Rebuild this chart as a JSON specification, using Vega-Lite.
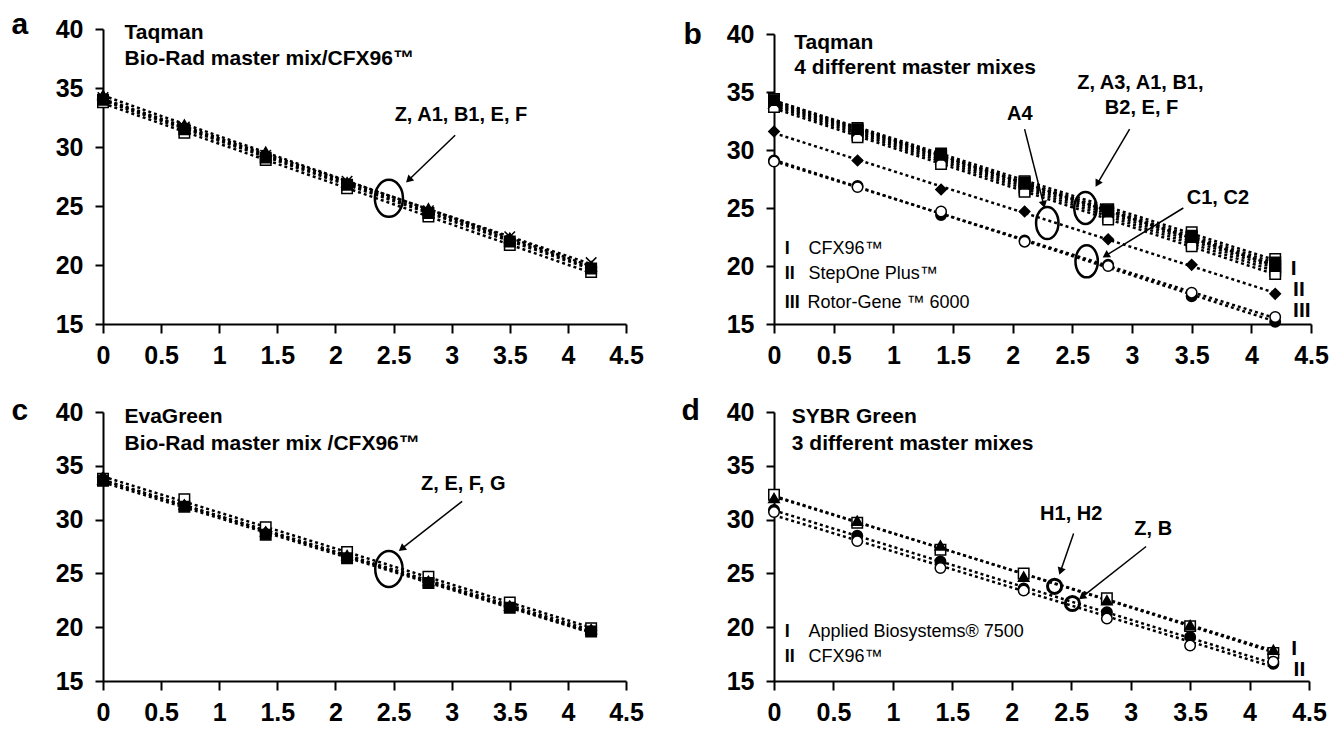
{
"$schema": "https://vega.github.io/schema/vega-lite/v6.json",
"padding": {"left": 11, "top": 9, "right": 5, "bottom": 5},
"columns": 2,
"bounds": "flush",
"spacing": {"row": 88, "column": 148},
"resolve": {"scale": {"shape": "independent", "fill": "independent"}},
"config": {
  "view": {"stroke": null},
  "font": "Liberation Sans, Arial, sans-serif",
  "axis": {"grid": false, "domainColor": "black", "domainWidth": 2, "tickColor": "black", "tickWidth": 2, "labelColor": "black", "labelFontSize": 25, "labelFontWeight": "bold", "titleColor": "black", "labelFlush": false, "labelOverlap": false},
  "text": {"color": "black"}
},
"datasets": {
  "a": [
    {"s":"Z","x":0,"y":33.8},{"s":"Z","x":0.7,"y":31.2},{"s":"Z","x":1.4,"y":28.9},{"s":"Z","x":2.1,"y":26.5},{"s":"Z","x":2.8,"y":24.1},{"s":"Z","x":3.5,"y":21.7},{"s":"Z","x":4.2,"y":19.4},
    {"s":"A1","x":0,"y":34.0},{"s":"A1","x":0.7,"y":31.5},{"s":"A1","x":1.4,"y":29.1},{"s":"A1","x":2.1,"y":26.8},{"s":"A1","x":2.8,"y":24.4},{"s":"A1","x":3.5,"y":22.0},{"s":"A1","x":4.2,"y":19.7},
    {"s":"B1","x":0,"y":34.4},{"s":"B1","x":0.7,"y":31.9},{"s":"B1","x":1.4,"y":29.6},{"s":"B1","x":2.1,"y":27.0},{"s":"B1","x":2.8,"y":24.8},{"s":"B1","x":3.5,"y":22.3},{"s":"B1","x":4.2,"y":19.9},
    {"s":"E","x":0,"y":34.2},{"s":"E","x":0.7,"y":31.7},{"s":"E","x":1.4,"y":29.3},{"s":"E","x":2.1,"y":27.1},{"s":"E","x":2.8,"y":24.6},{"s":"E","x":3.5,"y":22.4},{"s":"E","x":4.2,"y":20.2},
    {"s":"F","x":0,"y":34.1},{"s":"F","x":0.7,"y":31.6},{"s":"F","x":1.4,"y":29.2},{"s":"F","x":2.1,"y":26.9},{"s":"F","x":2.8,"y":24.5},{"s":"F","x":3.5,"y":22.2},{"s":"F","x":4.2,"y":19.8}
  ],
  "aText": [
    {"r":"title","x":0.185,"y":39.66,"t":"Taqman"},
    {"r":"title","x":0.185,"y":37.5,"t":"Bio-Rad master mix/CFX96™"},
    {"r":"note","x":3.08,"y":32.7,"t":"Z, A1, B1, E, F"}
  ],
  "aArrow": [{"id":"1","x":2.63,"y":27.2,"x2":3.03,"y2":31.0}],
  "aRing": [{"x":2.46,"y":25.65}],
  "b": [
    {"s":"Z","x":0,"y":34.4},{"s":"Z","x":0.7,"y":31.9},{"s":"Z","x":1.4,"y":29.7},{"s":"Z","x":2.1,"y":27.3},{"s":"Z","x":2.8,"y":24.9},{"s":"Z","x":3.5,"y":22.9},{"s":"Z","x":4.2,"y":20.6},
    {"s":"A3","x":0,"y":34.2},{"s":"A3","x":0.7,"y":31.7},{"s":"A3","x":1.4,"y":29.5},{"s":"A3","x":2.1,"y":27.2},{"s":"A3","x":2.8,"y":24.8},{"s":"A3","x":3.5,"y":22.6},{"s":"A3","x":4.2,"y":20.3},
    {"s":"A1","x":0,"y":34.0},{"s":"A1","x":0.7,"y":31.5},{"s":"A1","x":1.4,"y":29.2},{"s":"A1","x":2.1,"y":26.8},{"s":"A1","x":2.8,"y":24.4},{"s":"A1","x":3.5,"y":22.2},{"s":"A1","x":4.2,"y":19.9},
    {"s":"B1","x":0,"y":33.9},{"s":"B1","x":0.7,"y":31.3},{"s":"B1","x":1.4,"y":29.0},{"s":"B1","x":2.1,"y":26.6},{"s":"B1","x":2.8,"y":24.2},{"s":"B1","x":3.5,"y":22.0},{"s":"B1","x":4.2,"y":19.6},
    {"s":"B2","x":0,"y":33.7},{"s":"B2","x":0.7,"y":31.1},{"s":"B2","x":1.4,"y":28.8},{"s":"B2","x":2.1,"y":26.4},{"s":"B2","x":2.8,"y":24.0},{"s":"B2","x":3.5,"y":21.7},{"s":"B2","x":4.2,"y":19.3},
    {"s":"E","x":0,"y":34.1},{"s":"E","x":0.7,"y":31.6},{"s":"E","x":1.4,"y":29.4},{"s":"E","x":2.1,"y":27.0},{"s":"E","x":2.8,"y":24.6},{"s":"E","x":3.5,"y":22.4},{"s":"E","x":4.2,"y":20.1},
    {"s":"F","x":0,"y":34.3},{"s":"F","x":0.7,"y":31.8},{"s":"F","x":1.4,"y":29.6},{"s":"F","x":2.1,"y":27.1},{"s":"F","x":2.8,"y":24.7},{"s":"F","x":3.5,"y":22.5},{"s":"F","x":4.2,"y":20.0},
    {"s":"A4","x":0,"y":31.6},{"s":"A4","x":0.7,"y":29.1},{"s":"A4","x":1.4,"y":26.6},{"s":"A4","x":2.1,"y":24.7},{"s":"A4","x":2.8,"y":22.3},{"s":"A4","x":3.5,"y":20.1},{"s":"A4","x":4.2,"y":17.6},
    {"s":"C1","x":0,"y":29.1},{"s":"C1","x":0.7,"y":26.9},{"s":"C1","x":1.4,"y":24.4},{"s":"C1","x":2.1,"y":22.2},{"s":"C1","x":2.8,"y":20.1},{"s":"C1","x":3.5,"y":17.4},{"s":"C1","x":4.2,"y":15.2},
    {"s":"C2","x":0,"y":29.0},{"s":"C2","x":0.7,"y":26.8},{"s":"C2","x":1.4,"y":24.7},{"s":"C2","x":2.1,"y":22.1},{"s":"C2","x":2.8,"y":20.0},{"s":"C2","x":3.5,"y":17.7},{"s":"C2","x":4.2,"y":15.6}
  ],
  "bText": [
    {"r":"title","x":0.17,"y":39.2,"t":"Taqman"},
    {"r":"title","x":0.17,"y":37.1,"t":"4 different master mixes"},
    {"r":"note","x":2.06,"y":33.1,"t":"A4"},
    {"r":"note","x":3.07,"y":35.8,"t":"Z, A3, A1, B1,"},
    {"r":"note","x":3.08,"y":33.6,"t":"B2, E, F"},
    {"r":"note","x":3.72,"y":25.9,"t":"C1, C2"},
    {"r":"legnum","x":0.09,"y":21.5,"t":"I"},
    {"r":"legnum","x":0.09,"y":19.3,"t":"II"},
    {"r":"legnum","x":0.09,"y":16.8,"t":"III"},
    {"r":"leg","x":0.29,"y":21.5,"t":"CFX96™"},
    {"r":"leg","x":0.29,"y":19.3,"t":"StepOne Plus™"},
    {"r":"leg","x":0.28,"y":16.8,"t":"Rotor-Gene ™ 6000"},
    {"r":"side","x":4.33,"y":19.7,"t":"I"},
    {"r":"side","x":4.35,"y":17.9,"t":"II"},
    {"r":"side","x":4.35,"y":16.1,"t":"III"}
  ],
  "bArrow": [
    {"id":"A4","x":2.26,"y":25.3,"x2":2.10,"y2":31.8},
    {"id":"Z","x":2.71,"y":27.1,"x2":2.98,"y2":31.8},
    {"id":"C","x":2.78,"y":20.9,"x2":3.43,"y2":25.0}
  ],
  "bRing": [{"x":2.29,"y":23.7},{"x":2.61,"y":25.0},{"x":2.62,"y":20.4}],
  "c": [
    {"s":"Z","x":0,"y":33.8},{"s":"Z","x":0.7,"y":31.9},{"s":"Z","x":1.4,"y":29.3},{"s":"Z","x":2.1,"y":27.0},{"s":"Z","x":2.8,"y":24.7},{"s":"Z","x":3.5,"y":22.3},{"s":"Z","x":4.2,"y":19.9},
    {"s":"E","x":0,"y":33.6},{"s":"E","x":0.7,"y":31.2},{"s":"E","x":1.4,"y":28.6},{"s":"E","x":2.1,"y":26.4},{"s":"E","x":2.8,"y":24.1},{"s":"E","x":3.5,"y":21.8},{"s":"E","x":4.2,"y":19.6},
    {"s":"F","x":0,"y":33.7},{"s":"F","x":0.7,"y":31.4},{"s":"F","x":1.4,"y":28.9},{"s":"F","x":2.1,"y":26.7},{"s":"F","x":2.8,"y":24.3},{"s":"F","x":3.5,"y":22.0},{"s":"F","x":4.2,"y":19.8},
    {"s":"G","x":0,"y":33.9},{"s":"G","x":0.7,"y":31.3},{"s":"G","x":1.4,"y":28.8},{"s":"G","x":2.1,"y":26.5},{"s":"G","x":2.8,"y":24.2},{"s":"G","x":3.5,"y":21.9},{"s":"G","x":4.2,"y":19.7}
  ],
  "cText": [
    {"r":"title","x":0.185,"y":39.5,"t":"EvaGreen"},
    {"r":"title","x":0.185,"y":37.0,"t":"Bio-Rad master mix /CFX96™"},
    {"r":"note","x":3.10,"y":33.3,"t":"Z, E, F, G"}
  ],
  "cArrow": [{"id":"1","x":2.57,"y":27.3,"x2":3.09,"y2":31.7}],
  "cRing": [{"x":2.46,"y":25.4}],
  "d": [
    {"s":"H1","x":0,"y":32.3},{"s":"H1","x":0.7,"y":29.7},{"s":"H1","x":1.4,"y":27.2},{"s":"H1","x":2.1,"y":25.0},{"s":"H1","x":2.8,"y":22.7},{"s":"H1","x":3.5,"y":20.1},{"s":"H1","x":4.2,"y":17.6},
    {"s":"H2","x":0,"y":32.0},{"s":"H2","x":0.7,"y":29.9},{"s":"H2","x":1.4,"y":27.6},{"s":"H2","x":2.1,"y":24.7},{"s":"H2","x":2.8,"y":22.5},{"s":"H2","x":3.5,"y":20.2},{"s":"H2","x":4.2,"y":17.9},
    {"s":"Z","x":0,"y":30.9},{"s":"Z","x":0.7,"y":28.5},{"s":"Z","x":1.4,"y":26.1},{"s":"Z","x":2.1,"y":23.6},{"s":"Z","x":2.8,"y":21.4},{"s":"Z","x":3.5,"y":19.1},{"s":"Z","x":4.2,"y":16.6},
    {"s":"B","x":0,"y":30.7},{"s":"B","x":0.7,"y":28.0},{"s":"B","x":1.4,"y":25.5},{"s":"B","x":2.1,"y":23.4},{"s":"B","x":2.8,"y":20.8},{"s":"B","x":3.5,"y":18.3},{"s":"B","x":4.2,"y":16.8}
  ],
  "dText": [
    {"r":"title","x":0.15,"y":39.5,"t":"SYBR Green"},
    {"r":"title","x":0.15,"y":37.0,"t":"3 different master mixes"},
    {"r":"note","x":2.50,"y":30.5,"t":"H1, H2"},
    {"r":"note","x":3.19,"y":29.1,"t":"Z, B"},
    {"r":"legnum","x":0.09,"y":19.6,"t":"I"},
    {"r":"legnum","x":0.09,"y":17.2,"t":"II"},
    {"r":"leg","x":0.29,"y":19.6,"t":"Applied Biosystems® 7500"},
    {"r":"leg","x":0.29,"y":17.2,"t":"CFX96™"},
    {"r":"side","x":4.35,"y":18.0,"t":"I"},
    {"r":"side","x":4.37,"y":16.0,"t":"II"}
  ],
  "dArrow": [
    {"id":"H","x":2.41,"y":25.2,"x2":2.52,"y2":28.7},
    {"id":"Z","x":2.59,"y":22.8,"x2":3.13,"y2":27.5}
  ],
  "dRing": [{"x":2.36,"y":23.8},{"x":2.51,"y":22.2}]
},
"concat": [
  {
    "width": 523, "height": 295,
    "encoding": {
      "x": {"field":"x","type":"quantitative","scale":{"domain":[0,4.5],"nice":false,"zero":false},"axis":{"values":[0,0.5,1,1.5,2,2.5,3,3.5,4,4.5],"format":"~g","title":null,"tickSize":9,"labelPadding":10}},
      "y": {"field":"y","type":"quantitative","scale":{"domain":[15,40],"nice":false,"zero":false},"axis":{"values":[15,20,25,30,35,40],"format":"~g","title":"a","titleAngle":0,"titleX":-92,"titleY":4,"titleAlign":"left","titleBaseline":"alphabetic","titleFontSize":30,"titleFontWeight":"bold","tickSize":8,"labelPadding":12}}
    },
    "layer": [
      {"data":{"name":"a"},"transform":[{"regression":"y","on":"x","groupby":["s"],"extent":[0,4.2]}],"mark":{"type":"line","color":"black","strokeWidth":2.5,"strokeDash":[3,3]},"encoding":{"detail":{"field":"s","type":"nominal"}}},
      {"data":{"name":"a"},"mark":{"type":"point","filled":true,"stroke":"black","strokeWidth":1.5,"size":110,"opacity":1},"encoding":{
        "shape":{"field":"s","type":"nominal","scale":{"domain":["Z","A1","B1","E","F"],"range":["square","square","triangle-up","M-1,-1L1,1M-1,1L1,-1","diamond"]},"legend":null},
        "fill":{"field":"s","type":"nominal","scale":{"domain":["Z","A1","B1","E","F"],"range":["white","black","black","black","black"]},"legend":null}}},
      {"data":{"name":"aRing"},"mark":{"type":"point","shape":"M0,-1A0.76,1 0 1,1 0,1A0.76,1 0 1,1 0,-1Z","size":1369,"filled":false,"color":"black","strokeWidth":2.5,"opacity":1}},
      {"data":{"name":"aArrow"},"mark":{"type":"rule","color":"black","strokeWidth":1.5},"encoding":{"x2":{"field":"x2"},"y2":{"field":"y2"}}},
      {"data":{"name":"aArrow"},"mark":{"type":"point","shape":"triangle-up","angle":226,"size":70,"filled":true,"color":"black","opacity":1}},
      {"data":{"name":"aText"},"transform":[{"filter":"datum.r == 'title'"}],"mark":{"type":"text","align":"left","baseline":"middle","fontSize":21,"fontWeight":"bold"},"encoding":{"text":{"field":"t","type":"nominal"}}},
      {"data":{"name":"aText"},"transform":[{"filter":"datum.r == 'note'"}],"mark":{"type":"text","align":"center","baseline":"middle","fontSize":20,"fontWeight":"bold"},"encoding":{"text":{"field":"t","type":"nominal"}}}
    ]
  },
  {
    "width": 537, "height": 295,
    "encoding": {
      "x": {"field":"x","type":"quantitative","scale":{"domain":[0,4.5],"nice":false,"zero":false},"axis":{"values":[0,0.5,1,1.5,2,2.5,3,3.5,4,4.5],"format":"~g","title":null,"tickSize":9,"labelPadding":10}},
      "y": {"field":"y","type":"quantitative","scale":{"domain":[15,40],"nice":false,"zero":false,"range":[295,5]},"axis":{"values":[15,20,25,30,35,40],"format":"~g","title":"b","titleAngle":0,"titleX":-91,"titleY":14,"titleAlign":"left","titleBaseline":"alphabetic","titleFontSize":30,"titleFontWeight":"bold","tickSize":8,"labelPadding":12}}
    },
    "layer": [
      {"data":{"name":"b"},"transform":[{"regression":"y","on":"x","groupby":["s"],"extent":[0,4.2]}],"mark":{"type":"line","color":"black","strokeWidth":2.5,"strokeDash":[3,3]},"encoding":{"detail":{"field":"s","type":"nominal"}}},
      {"data":{"name":"b"},"mark":{"type":"point","filled":true,"stroke":"black","strokeWidth":1.5,"size":110,"opacity":1},"encoding":{
        "shape":{"field":"s","type":"nominal","scale":{"domain":["Z","A3","A1","B1","B2","E","F","A4","C1","C2"],"range":["square","square","triangle-up","square","square","M-1,-1L1,1M-1,1L1,-1","square","diamond","circle","circle"]},"legend":null},
        "fill":{"field":"s","type":"nominal","scale":{"domain":["Z","A3","A1","B1","B2","E","F","A4","C1","C2"],"range":["white","black","black","black","white","black","black","black","black","white"]},"legend":null}}},
      {"data":{"name":"bRing"},"mark":{"type":"point","shape":"M0,-1A0.7,1 0 1,1 0,1A0.7,1 0 1,1 0,-1Z","size":1024,"filled":false,"color":"black","strokeWidth":2.5,"opacity":1}},
      {"data":{"name":"bArrow"},"mark":{"type":"rule","color":"black","strokeWidth":1.5},"encoding":{"x2":{"field":"x2"},"y2":{"field":"y2"}}},
      {"data":{"name":"bArrow"},"transform":[{"filter":"datum.id == 'A4'"}],"mark":{"type":"point","shape":"triangle-up","angle":166,"size":70,"filled":true,"color":"black","opacity":1}},
      {"data":{"name":"bArrow"},"transform":[{"filter":"datum.id == 'Z'"}],"mark":{"type":"point","shape":"triangle-up","angle":210,"size":70,"filled":true,"color":"black","opacity":1}},
      {"data":{"name":"bArrow"},"transform":[{"filter":"datum.id == 'C'"}],"mark":{"type":"point","shape":"triangle-up","angle":238,"size":70,"filled":true,"color":"black","opacity":1}},
      {"data":{"name":"bText"},"transform":[{"filter":"datum.r == 'title'"}],"mark":{"type":"text","align":"left","baseline":"middle","fontSize":21,"fontWeight":"bold"},"encoding":{"text":{"field":"t","type":"nominal"}}},
      {"data":{"name":"bText"},"transform":[{"filter":"datum.r == 'note'"}],"mark":{"type":"text","align":"center","baseline":"middle","fontSize":20,"fontWeight":"bold"},"encoding":{"text":{"field":"t","type":"nominal"}}},
      {"data":{"name":"bText"},"transform":[{"filter":"datum.r == 'legnum'"}],"mark":{"type":"text","align":"left","baseline":"middle","fontSize":18,"fontWeight":"bold"},"encoding":{"text":{"field":"t","type":"nominal"}}},
      {"data":{"name":"bText"},"transform":[{"filter":"datum.r == 'leg'"}],"mark":{"type":"text","align":"left","baseline":"middle","fontSize":18},"encoding":{"text":{"field":"t","type":"nominal"}}},
      {"data":{"name":"bText"},"transform":[{"filter":"datum.r == 'side'"}],"mark":{"type":"text","align":"left","baseline":"middle","fontSize":21,"fontWeight":"bold"},"encoding":{"text":{"field":"t","type":"nominal"}}}
    ]
  },
  {
    "width": 523, "height": 269,
    "encoding": {
      "x": {"field":"x","type":"quantitative","scale":{"domain":[0,4.5],"nice":false,"zero":false},"axis":{"values":[0,0.5,1,1.5,2,2.5,3,3.5,4,4.5],"format":"~g","title":null,"tickSize":9,"labelPadding":10}},
      "y": {"field":"y","type":"quantitative","scale":{"domain":[15,40],"nice":false,"zero":false},"axis":{"values":[15,20,25,30,35,40],"format":"~g","title":"c","titleAngle":0,"titleX":-92,"titleY":7,"titleAlign":"left","titleBaseline":"alphabetic","titleFontSize":30,"titleFontWeight":"bold","tickSize":8,"labelPadding":12}}
    },
    "layer": [
      {"data":{"name":"c"},"transform":[{"regression":"y","on":"x","groupby":["s"],"extent":[0,4.2]}],"mark":{"type":"line","color":"black","strokeWidth":2.5,"strokeDash":[3,3]},"encoding":{"detail":{"field":"s","type":"nominal"}}},
      {"data":{"name":"c"},"mark":{"type":"point","filled":true,"stroke":"black","strokeWidth":1.5,"size":110,"opacity":1},"encoding":{
        "shape":{"field":"s","type":"nominal","scale":{"domain":["Z","E","F","G"],"range":["square","square","triangle-up","diamond"]},"legend":null},
        "fill":{"field":"s","type":"nominal","scale":{"domain":["Z","E","F","G"],"range":["white","black","black","black"]},"legend":null}}},
      {"data":{"name":"cRing"},"mark":{"type":"point","shape":"M0,-1A0.76,1 0 1,1 0,1A0.76,1 0 1,1 0,-1Z","size":1296,"filled":false,"color":"black","strokeWidth":2.5,"opacity":1}},
      {"data":{"name":"cArrow"},"mark":{"type":"rule","color":"black","strokeWidth":1.5},"encoding":{"x2":{"field":"x2"},"y2":{"field":"y2"}}},
      {"data":{"name":"cArrow"},"mark":{"type":"point","shape":"triangle-up","angle":232,"size":70,"filled":true,"color":"black","opacity":1}},
      {"data":{"name":"cText"},"transform":[{"filter":"datum.r == 'title'"}],"mark":{"type":"text","align":"left","baseline":"middle","fontSize":21,"fontWeight":"bold"},"encoding":{"text":{"field":"t","type":"nominal"}}},
      {"data":{"name":"cText"},"transform":[{"filter":"datum.r == 'note'"}],"mark":{"type":"text","align":"center","baseline":"middle","fontSize":20,"fontWeight":"bold"},"encoding":{"text":{"field":"t","type":"nominal"}}}
    ]
  },
  {
    "width": 535, "height": 269,
    "encoding": {
      "x": {"field":"x","type":"quantitative","scale":{"domain":[0,4.5],"nice":false,"zero":false},"axis":{"values":[0,0.5,1,1.5,2,2.5,3,3.5,4,4.5],"format":"~g","title":null,"tickSize":9,"labelPadding":10}},
      "y": {"field":"y","type":"quantitative","scale":{"domain":[15,40],"nice":false,"zero":false},"axis":{"values":[15,20,25,30,35,40],"format":"~g","title":"d","titleAngle":0,"titleX":-93,"titleY":7,"titleAlign":"left","titleBaseline":"alphabetic","titleFontSize":30,"titleFontWeight":"bold","tickSize":8,"labelPadding":12}}
    },
    "layer": [
      {"data":{"name":"d"},"transform":[{"regression":"y","on":"x","groupby":["s"],"extent":[0,4.2]}],"mark":{"type":"line","color":"black","strokeWidth":2.5,"strokeDash":[3,3]},"encoding":{"detail":{"field":"s","type":"nominal"}}},
      {"data":{"name":"d"},"mark":{"type":"point","filled":true,"stroke":"black","strokeWidth":1.5,"size":110,"opacity":1},"encoding":{
        "shape":{"field":"s","type":"nominal","scale":{"domain":["H1","H2","Z","B"],"range":["square","triangle-up","circle","circle"]},"legend":null},
        "fill":{"field":"s","type":"nominal","scale":{"domain":["H1","H2","Z","B"],"range":["white","black","black","white"]},"legend":null}}},
      {"data":{"name":"dRing"},"mark":{"type":"point","shape":"circle","size":200,"filled":false,"color":"black","strokeWidth":3,"opacity":1}},
      {"data":{"name":"dArrow"},"mark":{"type":"rule","color":"black","strokeWidth":1.5},"encoding":{"x2":{"field":"x2"},"y2":{"field":"y2"}}},
      {"data":{"name":"dArrow"},"transform":[{"filter":"datum.id == 'H'"}],"mark":{"type":"point","shape":"triangle-up","angle":199,"size":70,"filled":true,"color":"black","opacity":1}},
      {"data":{"name":"dArrow"},"transform":[{"filter":"datum.id == 'Z'"}],"mark":{"type":"point","shape":"triangle-up","angle":232,"size":70,"filled":true,"color":"black","opacity":1}},
      {"data":{"name":"dText"},"transform":[{"filter":"datum.r == 'title'"}],"mark":{"type":"text","align":"left","baseline":"middle","fontSize":21,"fontWeight":"bold"},"encoding":{"text":{"field":"t","type":"nominal"}}},
      {"data":{"name":"dText"},"transform":[{"filter":"datum.r == 'note'"}],"mark":{"type":"text","align":"center","baseline":"middle","fontSize":20,"fontWeight":"bold"},"encoding":{"text":{"field":"t","type":"nominal"}}},
      {"data":{"name":"dText"},"transform":[{"filter":"datum.r == 'legnum'"}],"mark":{"type":"text","align":"left","baseline":"middle","fontSize":18,"fontWeight":"bold"},"encoding":{"text":{"field":"t","type":"nominal"}}},
      {"data":{"name":"dText"},"transform":[{"filter":"datum.r == 'leg'"}],"mark":{"type":"text","align":"left","baseline":"middle","fontSize":18},"encoding":{"text":{"field":"t","type":"nominal"}}},
      {"data":{"name":"dText"},"transform":[{"filter":"datum.r == 'side'"}],"mark":{"type":"text","align":"left","baseline":"middle","fontSize":21,"fontWeight":"bold"},"encoding":{"text":{"field":"t","type":"nominal"}}}
    ]
  }
]
}
